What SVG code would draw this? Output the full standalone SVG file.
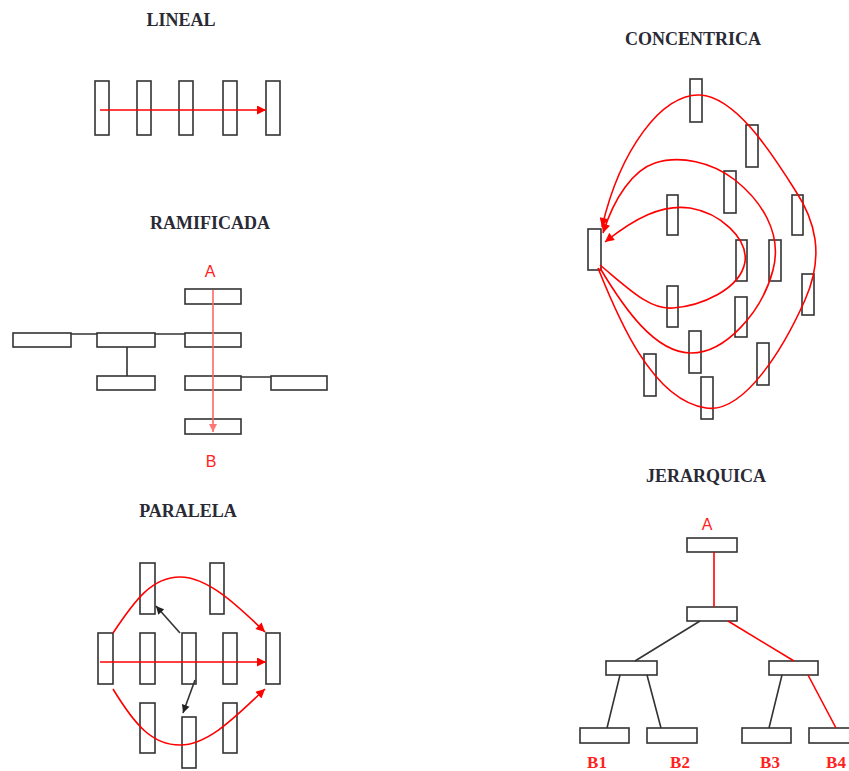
<svg xmlns="http://www.w3.org/2000/svg" width="849" height="771" viewBox="0 0 849 771">
<style>
.b{fill:#fff;stroke:#333;stroke-width:1.6}
.t{font-family:"Liberation Serif",serif;font-size:18px;font-weight:bold;fill:#2a2a35;text-anchor:middle}
.ls{font-family:"Liberation Sans",sans-serif;font-size:16px;fill:#f22;text-anchor:middle}
.lb{font-family:"Liberation Serif",serif;font-size:17px;font-weight:bold;fill:#f22;text-anchor:middle}
.r{fill:none;stroke:#f00;stroke-width:1.6}
.k{fill:none;stroke:#333;stroke-width:1.6}
</style>
<defs>
<marker id="ar" viewBox="0 0 10 10" refX="10" refY="5" markerWidth="11" markerHeight="9" markerUnits="userSpaceOnUse" orient="auto"><path d="M0,0 L10,5 L0,10 z" fill="#f00"/></marker>
<marker id="ap" viewBox="0 0 10 10" refX="10" refY="5" markerWidth="10" markerHeight="8" markerUnits="userSpaceOnUse" orient="auto"><path d="M0,0 L10,5 L0,10 z" fill="#f77"/></marker>
<marker id="ak" viewBox="0 0 10 10" refX="10" refY="5" markerWidth="10" markerHeight="8" markerUnits="userSpaceOnUse" orient="auto"><path d="M0,0 L10,5 L0,10 z" fill="#222"/></marker>
</defs>

<g id="titles">
<text class="t" x="181" y="26">LINEAL</text>
<text class="t" x="210" y="229">RAMIFICADA</text>
<text class="t" x="188" y="517">PARALELA</text>
<text class="t" x="693" y="45">CONCENTRICA</text>
<text class="t" x="706" y="482">JERARQUICA</text>
</g>

<!-- LINEAL -->
<g id="lin1"><rect class="b" x="95" y="81" width="14" height="54"/></g>
<g id="lin2"><rect class="b" x="137" y="81" width="14" height="54"/></g>
<g id="lin3"><rect class="b" x="179" y="81" width="14" height="54"/></g>
<g id="lin4"><rect class="b" x="223" y="81" width="14" height="54"/></g>
<g id="lin5"><rect class="b" x="266" y="81" width="14" height="54"/></g>

<!-- RAMIFICADA -->
<g id="ram1"><rect class="b" x="185" y="289" width="56" height="15"/></g>
<g id="ram2"><rect class="b" x="13" y="333" width="58" height="14"/></g>
<g id="ram3"><rect class="b" x="97" y="333" width="58" height="14"/></g>
<g id="ram4"><rect class="b" x="185" y="333" width="56" height="14"/></g>
<g id="ram5"><rect class="b" x="97" y="376" width="58" height="14"/></g>
<g id="ram6"><rect class="b" x="185" y="376" width="56" height="14"/></g>
<g id="ram7"><rect class="b" x="271" y="376" width="56" height="14"/></g>
<g id="ram8"><rect class="b" x="185" y="419" width="56" height="15"/></g>
<g id="ramA"><text class="ls" x="210" y="277">A</text></g>
<g id="ramB"><text class="ls" x="211" y="467">B</text></g>

<!-- PARALELA -->
<g id="par1"><rect class="b" x="140" y="563" width="15" height="51"/></g>
<g id="par2"><rect class="b" x="210" y="563" width="14" height="51"/></g>
<g id="par3"><rect class="b" x="98" y="633" width="15" height="51"/></g>
<g id="par4"><rect class="b" x="140" y="633" width="15" height="51"/></g>
<g id="par5"><rect class="b" x="182" y="633" width="14" height="51"/></g>
<g id="par6"><rect class="b" x="223" y="633" width="14" height="51"/></g>
<g id="par7"><rect class="b" x="266" y="633" width="14" height="51"/></g>
<g id="par8"><rect class="b" x="140" y="703" width="15" height="50"/></g>
<g id="par9"><rect class="b" x="182" y="717" width="14" height="51"/></g>
<g id="par10"><rect class="b" x="223" y="703" width="14" height="50"/></g>

<!-- CONCENTRICA -->
<g id="con0"><rect class="b" x="588" y="229" width="13" height="41"/></g>
<g id="con1"><rect class="b" x="690" y="79" width="12" height="43"/></g>
<g id="con2"><rect class="b" x="746" y="125" width="12" height="42"/></g>
<g id="con3"><rect class="b" x="724" y="171" width="12" height="42"/></g>
<g id="con4"><rect class="b" x="667" y="195" width="11" height="40"/></g>
<g id="con5"><rect class="b" x="792" y="195" width="11" height="40"/></g>
<g id="con6"><rect class="b" x="736" y="240" width="11" height="41"/></g>
<g id="con7"><rect class="b" x="769" y="240" width="12" height="41"/></g>
<g id="con8"><rect class="b" x="802" y="274" width="12" height="41"/></g>
<g id="con9"><rect class="b" x="667" y="286" width="11" height="41"/></g>
<g id="con10"><rect class="b" x="735" y="297" width="12" height="40"/></g>
<g id="con11"><rect class="b" x="689" y="331" width="12" height="42"/></g>
<g id="con12"><rect class="b" x="757" y="343" width="12" height="42"/></g>
<g id="con13"><rect class="b" x="644" y="354" width="12" height="42"/></g>
<g id="con14"><rect class="b" x="701" y="377" width="12" height="42"/></g>

<!-- JERARQUICA -->
<g id="jer1"><rect class="b" x="687" y="538" width="50" height="14"/></g>
<g id="jer2"><rect class="b" x="687" y="607" width="50" height="14"/></g>
<g id="jer3"><rect class="b" x="606" y="661" width="51" height="14"/></g>
<g id="jer4"><rect class="b" x="769" y="661" width="49" height="14"/></g>
<g id="jer5"><rect class="b" x="580" y="728" width="49" height="15"/></g>
<g id="jer6"><rect class="b" x="647" y="728" width="50" height="15"/></g>
<g id="jer7"><rect class="b" x="742" y="728" width="49" height="15"/></g>
<g id="jer8"><rect class="b" x="809" y="728" width="49" height="15"/></g>
<g id="jerA"><text class="ls" x="707" y="530">A</text></g>
<g id="jerB1"><text class="lb" x="597" y="768">B1</text></g>
<g id="jerB2"><text class="lb" x="680" y="768">B2</text></g>
<g id="jerB3"><text class="lb" x="770" y="768">B3</text></g>
<g id="jerB4"><text class="lb" x="836" y="768">B4</text></g>

<g id="connectors">
<!-- LINEAL -->
<path class="r" d="M100,110 L266,110" marker-end="url(#ar)"/>
<!-- RAMIFICADA -->
<path class="k" d="M71,334 L97,334 M155,334 L185,334 M127,347 L127,376 M241,377 L271,377"/>
<path d="M213,290 L213,432" fill="none" stroke="#f66" stroke-width="1.6" marker-end="url(#ap)"/>
<!-- PARALELA -->
<path class="r" d="M100,662 L266,662" marker-end="url(#ar)"/>
<path class="r" d="M113,633 C135,600 152,577 180,577 C208,577 238,606 265,632" marker-end="url(#ar)"/>
<path class="r" d="M113,689 C135,725 152,745 180,745 C210,745 240,712 265,689" marker-end="url(#ar)"/>
<path class="k" d="M180,633 L156,606" marker-end="url(#ak)"/>
<path class="k" d="M195,680 L183,713" marker-end="url(#ak)"/>
<!-- CONCENTRICA -->
<path class="r" d="M598,268 C615,310 650,400 706,408 C745,414 785,345 805,300 C825,255 815,220 795,190 C770,150 735,97 700,95 C662,93 620,150 602,227" marker-end="url(#ar)"/>
<path class="r" d="M600,268 C625,310 655,352 690,353 C725,354 762,312 773,270 C783,232 760,200 735,180 C712,162 680,155 655,163 C633,170 614,198 603,233" marker-end="url(#ar)"/>
<path class="r" d="M600,265 C630,290 650,310 673,308 C700,306 740,290 745,262 C748,238 720,213 690,208 C662,204 635,218 605,242" marker-end="url(#ar)"/>
<!-- JERARQUICA -->
<path class="r" d="M714,552 L714,607"/>
<path class="k" d="M700,621 L635,661"/>
<path class="r" d="M728,621 L794,661"/>
<path class="k" d="M620,675 L607,728 M647,675 L661,728 M782,675 L769,728"/>
<path class="r" d="M808,675 L836,728"/>
</g>
</svg>
